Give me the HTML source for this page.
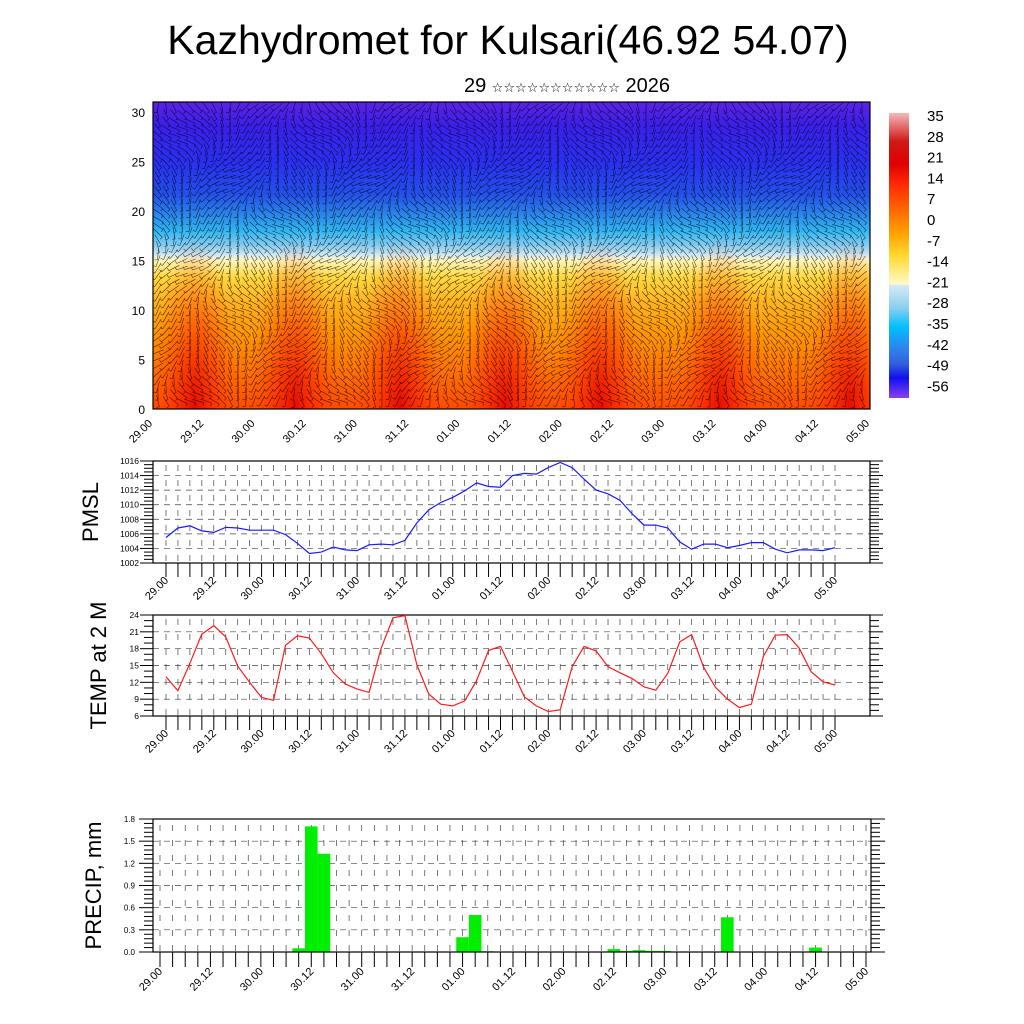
<!DOCTYPE html>
<html><head><meta charset="utf-8"><style>
html,body{margin:0;padding:0;background:#fff;}
svg{display:block;font-family:"Liberation Sans","DejaVu Sans","Noto Sans CJK SC",sans-serif;}
</style></head><body>
<svg id="chart" width="1024" height="1024" viewBox="0 0 1024 1024">
<defs>
<linearGradient id="fieldGrad" x1="0" y1="0" x2="0" y2="1">
<stop offset="0" stop-color="#5a22e6"/><stop offset="0.08" stop-color="#3a20ea"/>
<stop offset="0.2" stop-color="#2a30f0"/><stop offset="0.3" stop-color="#2450ea"/>
<stop offset="0.36" stop-color="#2a80ea"/><stop offset="0.42" stop-color="#30b6f2"/>
<stop offset="0.47" stop-color="#8ccdf0"/><stop offset="0.5" stop-color="#d6ebf2"/>
<stop offset="0.515" stop-color="#fff6bc"/><stop offset="0.57" stop-color="#ffd840"/>
<stop offset="0.65" stop-color="#ffb420"/><stop offset="0.75" stop-color="#ff9800"/>
<stop offset="0.85" stop-color="#ff7a00"/><stop offset="0.95" stop-color="#ff5a00"/>
<stop offset="1" stop-color="#ff4a00"/>
</linearGradient>
<radialGradient id="warmCol" cx="0.5" cy="1" r="0.5" fx="0.5" fy="1" gradientTransform="translate(0.5 1) scale(1 2) translate(-0.5 -1)">
<stop offset="0" stop-color="#e00000" stop-opacity="0.85"/><stop offset="0.5" stop-color="#ff2000" stop-opacity="0.45"/>
<stop offset="1" stop-color="#ff5000" stop-opacity="0"/>
</radialGradient>
<clipPath id="fieldClip"><rect x="153" y="102" width="717" height="307"/></clipPath>
<linearGradient id="cbGrad" x1="0" y1="0" x2="0" y2="1">
<stop offset="0" stop-color="#f5b8b8"/><stop offset="0.1" stop-color="#d01818"/>
<stop offset="0.18" stop-color="#e00000"/><stop offset="0.25" stop-color="#ff2a00"/>
<stop offset="0.33" stop-color="#ff6000"/><stop offset="0.42" stop-color="#ffa000"/>
<stop offset="0.5" stop-color="#ffd830"/><stop offset="0.6" stop-color="#fffac8"/>
<stop offset="0.605" stop-color="#d4eaf6"/><stop offset="0.68" stop-color="#90d0f0"/>
<stop offset="0.75" stop-color="#00c0ff"/><stop offset="0.83" stop-color="#3080ee"/>
<stop offset="0.88" stop-color="#3060dc"/><stop offset="0.93" stop-color="#1010f0"/>
<stop offset="1" stop-color="#8a40ee"/>
</linearGradient>
</defs>
<text x="508" y="54" font-size="41" text-anchor="middle">Kazhydromet for Kulsari(46.92 54.07)</text>
<text x="567" y="92" font-size="20" text-anchor="middle">29 <tspan font-size="13">☆☆☆☆☆☆☆☆☆☆☆</tspan> 2026</text>
<g id="field"></g>
<g id="colorbar"></g>
<g id="pmsl"></g>
<g id="temp"></g>
<g id="precip"></g>
</svg>
<script>
const dayLabels = ["29.00","29.12","30.00","30.12","31.00","31.12","01.00","01.12","02.00","02.12","03.00","03.12","04.00","04.12","05.00"];
const fieldYTicks = [0,5,10,15,20,25,30];
const cbLabels = ["35","28","21","14","7","0","-7","-14","-21","-28","-35","-42","-49","-56"];
const pmslValues = [1005.5,1006.8,1007.1,1006.4,1006.2,1006.9,1006.8,1006.5,1006.5,1006.5,1005.9,1004.7,1003.3,1003.5,1004.2,1003.8,1003.7,1004.5,1004.6,1004.5,1005.1,1007.5,1009.3,1010.3,1011.0,1011.9,1013.0,1012.5,1012.4,1014.0,1014.3,1014.2,1015.1,1015.8,1015.1,1013.5,1012.0,1011.5,1010.6,1008.8,1007.2,1007.2,1006.8,1004.9,1003.9,1004.6,1004.6,1004.1,1004.4,1004.8,1004.8,1003.9,1003.4,1003.8,1003.8,1003.7,1004.1];
const pmslTicks = [1002,1004,1006,1008,1010,1012,1014,1016];
const tempValues = [13.0,10.5,15.4,20.6,22.1,20.1,14.9,12.0,9.3,8.8,18.6,20.3,19.9,17.1,13.7,11.7,10.8,10.2,18.0,23.5,23.9,15.1,9.9,8.1,7.8,8.7,12.3,17.7,18.4,14.0,9.4,7.8,6.8,7.1,14.8,18.4,17.6,14.8,13.7,12.7,11.2,10.6,13.6,19.2,20.5,14.7,11.1,9.0,7.5,8.1,16.6,20.4,20.5,18.1,13.9,12.1,11.5];
const tempTicks = [6,9,12,15,18,21,24];
const precipValues = [0,0,0,0,0,0,0,0,0,0,0,0.05,1.70,1.33,0,0,0,0,0,0,0,0,0,0,0.20,0.50,0.01,0,0,0,0,0,0,0,0,0,0.04,0.015,0.025,0.015,0.015,0,0,0,0,0.47,0,0,0,0,0,0,0.06,0,0,0,0];
const precipTicks = ["0.0","0.3","0.6","0.9","1.2","1.5","1.8"];

const NS="http://www.w3.org/2000/svg";
function mk(parent,tag,attrs,text){const e=document.createElementNS(NS,tag);for(const k in attrs)e.setAttribute(k,attrs[k]);if(text!==undefined)e.textContent=text;parent.appendChild(e);return e;}

/* ---------- top field ---------- */
(function(){
const g=document.getElementById('field');
const L=153,R=870,T=102,B=409;
const fr=mk(g,'rect',{x:L,y:T,width:R-L,height:B-T,fill:'url(#fieldGrad)'});


const wg=mk(g,'g',{'clip-path':'url(#fieldClip)'});
const warm=[195,295,400,505,600,720,850];
warm.forEach(cx=>{const r=mk(wg,'rect',{x:cx-45,y:B-170,width:90,height:170,fill:'url(#warmCol)'});

});
const bl=mk(g,'g',{stroke:'#000','stroke-width':'0.6','stroke-opacity':'0.7','clip-path':'url(#fieldClip)'});


let d='';
for(let x=L+5;x<R-3;x+=8){for(let y=T+5;y<B-3;y+=7){
 const a=Math.PI/2+0.9*Math.sin(x*0.045+y*0.021)+0.4*Math.cos(y*0.07);
 const len=12, dx=Math.cos(a)*len/2, dy=Math.sin(a)*len/2;
 d+=`M${(x-dx).toFixed(1)} ${(y-dy).toFixed(1)}L${(x+dx).toFixed(1)} ${(y+dy).toFixed(1)}`;
 d+=`M${(x+dx).toFixed(1)} ${(y+dy).toFixed(1)}l${(-dy*0.5).toFixed(1)} ${(dx*0.5).toFixed(1)}`;
}}
mk(bl,'path',{d:d,fill:'none'});
const frame=mk(g,'rect',{x:L,y:T,width:R-L,height:B-T,fill:'none',stroke:'#000','stroke-width':'1.2'});


const yv=v=>410-v*(297/30);
fieldYTicks.forEach(v=>{const t=mk(g,'text',{x:145,y:yv(v)+4,'font-size':12,'text-anchor':'end'},String(v));

});
const step=(R-L)/14;
dayLabels.forEach((s,i)=>{const x=L+i*step;
 const t=mk(g,'text',{x:x,y:424,'font-size':11,'text-anchor':'end',transform:`rotate(-45 ${x} 424)`},s);
 
 });
})();

/* ---------- colorbar ---------- */
(function(){
const g=document.getElementById('colorbar');
const r=mk(g,'rect',{x:889,y:113,width:20,height:285,fill:'url(#cbGrad)'});


cbLabels.forEach((s,i)=>{const t=mk(g,'text',{x:927,y:121+i*20.8,'font-size':15},s);

});
})();

/* ---------- line panels ---------- */
function linePanel(id,opts){
const g=document.getElementById(id);
const {L,R,T,B,x0,x1,ymin,ymax,ticks,vals,color,title,titleX,minorPer,fs}=opts;
const sx=i=>x0+i*(x1-x0)/56, sy=v=>B-(v-ymin)/(ymax-ymin)*(B-T);
const grid=mk(g,'g',{stroke:'#444','stroke-width':'0.7'});


for(let i=0;i<=56;i++){mk(grid,'line',{x1:sx(i),x2:sx(i),y1:T+4,y2:B,'stroke-dasharray':'6,9'});}
ticks.forEach(v=>{if(v>ymin&&v<ymax)mk(grid,'line',{x1:L,x2:R,y1:sy(v),y2:sy(v),'stroke-dasharray':'6,5'});});
const fr=mk(g,'rect',{x:L,y:T,width:R-L,height:B-T,fill:'none',stroke:'#000','stroke-width':'1.2'});


const tk=mk(g,'g',{stroke:'#000','stroke-width':'1'});


for(let k=0;k<(ticks.length-1)*minorPer;k++){const v=ymin+k*(ymax-ymin)/((ticks.length-1)*minorPer);
 if(k%minorPer===0)continue;const y=sy(v);
 mk(tk,'line',{x1:L-9,x2:L,y1:y,y2:y});mk(tk,'line',{x1:R,x2:R+9,y1:y,y2:y});}
ticks.forEach(v=>{const y=sy(v);mk(tk,'line',{x1:L-13,x2:L,y1:y,y2:y});mk(tk,'line',{x1:R,x2:R+13,y1:y,y2:y});
 const t=mk(g,'text',{x:L-14,y:y+3,'font-size':fs,'text-anchor':'end'},String(v));
 
 });
for(let i=0;i<=56;i++)mk(tk,'line',{x1:sx(i),x2:sx(i),y1:B,y2:B+14});
dayLabels.forEach((s,i)=>{const x=sx(i*4)+3,y=B+18;
 const t=mk(g,'text',{x:x,y:y,'font-size':11,'text-anchor':'end',transform:`rotate(-45 ${x} ${y})`},s);
 
 });
const p=mk(g,'polyline',{points:vals.map((v,i)=>sx(i).toFixed(1)+','+sy(v).toFixed(1)).join(' '),fill:'none',stroke:color,'stroke-width':'1.2'});


const cy=(T+B)/2;
const tt=mk(g,'text',{x:titleX,y:cy,'font-size':22,'text-anchor':'middle',transform:`rotate(-90 ${titleX} ${cy})`},title);


}
linePanel('pmsl',{L:153,R:870,T:461,B:563,x0:166,x1:835,ymin:1002,ymax:1016,ticks:pmslTicks,vals:pmslValues,color:'#1a1aff',title:'PMSL',titleX:98,minorPer:4,fs:8.5});
linePanel('temp',{L:153,R:870,T:615,B:716,x0:166,x1:835,ymin:6,ymax:24,ticks:tempTicks,vals:tempValues,color:'#ff1a1a',title:'TEMP at 2 M',titleX:106,minorPer:3,fs:8.5});

/* ---------- precip ---------- */
(function(){
const g=document.getElementById('precip');
const L=153,R=871,T=819,B=952,x0=160,x1=866;
const sx=i=>x0+i*(x1-x0)/56, sy=v=>B-v/1.8*(B-T), bw=(x1-x0)/56;
const grid=mk(g,'g',{stroke:'#444','stroke-width':'0.7'});


for(let i=0;i<=56;i++)mk(grid,'line',{x1:sx(i),x2:sx(i),y1:T+6,y2:B,'stroke-dasharray':'6,9'});
precipTicks.forEach(s=>{const v=parseFloat(s);if(v>0&&v<1.8)mk(grid,'line',{x1:L,x2:R,y1:sy(v),y2:sy(v),'stroke-dasharray':'6,5'});});
precipValues.forEach((v,i)=>{if(v<=0)return;
 const r=mk(g,'rect',{x:sx(i)-bw/2,y:sy(v),width:bw,height:B-sy(v),fill:'#00ee00'});
 
 });
const fr=mk(g,'rect',{x:L,y:T,width:R-L,height:B-T,fill:'none',stroke:'#000','stroke-width':'1.2'});


const tk=mk(g,'g',{stroke:'#000','stroke-width':'1'});


for(let k=0;k<=30;k++){const y=sy(k*0.06);const major=k%5===0;
 mk(tk,'line',{x1:L-(major?14:9),x2:L,y1:y,y2:y});mk(tk,'line',{x1:R,x2:R+(major?14:9),y1:y,y2:y});}
precipTicks.forEach(s=>{const t=mk(g,'text',{x:L-18,y:sy(parseFloat(s))+3,'font-size':8,'text-anchor':'end'},s);
 
 });
for(let i=0;i<=56;i++)mk(tk,'line',{x1:sx(i),x2:sx(i),y1:B,y2:B+15});
dayLabels.forEach((s,i)=>{const x=sx(i*4)+3,y=B+20;
 const t=mk(g,'text',{x:x,y:y,'font-size':11,'text-anchor':'end',transform:`rotate(-45 ${x} ${y})`},s);
 
 });
const cy=(T+B)/2;
const tt=mk(g,'text',{x:101,y:cy,'font-size':22,'text-anchor':'middle',transform:`rotate(-90 101 ${cy})`},'PRECIP, mm');


})();
</script>
</body></html>
